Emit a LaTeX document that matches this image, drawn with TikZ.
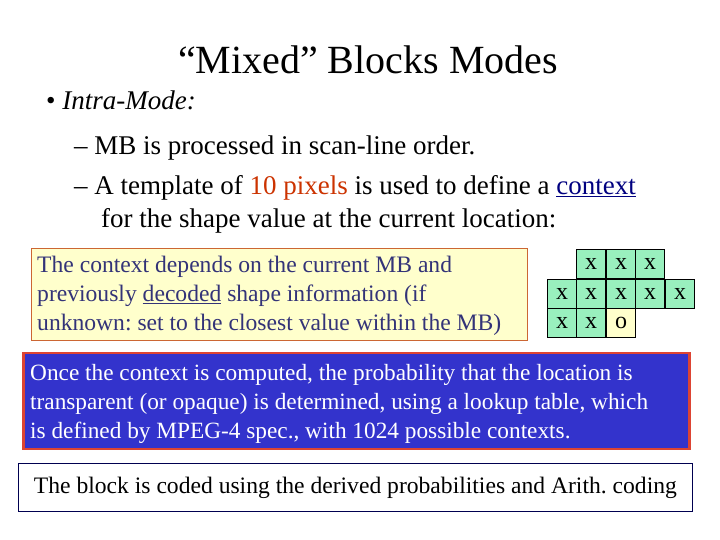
\documentclass[tikz,border=0pt]{standalone}
\usepackage{fontspec}
\setmainfont{Liberation Serif}
\frenchspacing
\begin{document}
\begin{tikzpicture}[x=1pt,y=1pt,
  txt/.style={anchor=base west,inner sep=0pt,font=\fontsize{27}{30}\selectfont},
  boxtxt/.style={align=left,inner sep=0pt,font=\fontsize{23.6}{29}\selectfont},
  cell/.style={draw=black,fill={rgb,255:red,153;green,240;blue,190},minimum size=29.5pt,inner sep=0pt,font=\fontsize{24}{24}\selectfont,line width=0.8pt},
  ocell/.style={cell,fill={rgb,255:red,255;green,255;blue,204}}]
\useasboundingbox (0,0) rectangle (720,540);
\fill[white] (0,0) rectangle (720,540);
\node[anchor=base,inner sep=0pt,font=\fontsize{40}{44}\selectfont] (title) at (368,466) {“Mixed” Blocks Modes};
\node[txt] (b1) at (46,430) {\textbullet\ \textit{Intra-Mode:}};
\node[txt] (l1) at (74,385) {– MB is processed in scan-line order.};
\node[txt] (l2) at (74,345) {– A template of \textcolor[HTML]{CC3300}{10 pixels} is used to define a \textcolor[HTML]{000080}{\underline{context}}};
\node[txt] (l3) at (101,312) {for the shape value at the current location:};
\node[draw={rgb,255:red,204;green,102;blue,51},line width=1pt,fill={rgb,255:red,255;green,255;blue,204},minimum width=496pt,minimum height=92pt,anchor=north west] (ybox) at (31,292) {};
\node[boxtxt,text={rgb,255:red,51;green,51;blue,120},anchor=west] (ytxt) at (37,244) {The context depends on the current MB and\\previously \underline{decoded} shape information (if\\unknown: set to the closest value within the MB)};
\node[cell] (c12) at (591,276) {x};
\node[cell] (c13) at (621,276) {x};
\node[cell] (c14) at (650,276) {x};
\node[cell] (c21) at (562,246) {x};
\node[cell] (c22) at (591,246) {x};
\node[cell] (c23) at (621,246) {x};
\node[cell] (c24) at (650,246) {x};
\node[cell] (c25) at (680,246) {x};
\node[cell] (c31) at (562,217) {x};
\node[cell] (c32) at (591,217) {x};
\node[ocell] (c33) at (621,217) {o};
\node[draw={rgb,255:red,221;green,68;blue,51},line width=2.5pt,fill={rgb,255:red,51;green,51;blue,204},minimum width=666pt,minimum height=96pt,anchor=north west] (bbox) at (22,188) {};
\node[boxtxt,text=white,anchor=west,font=\fontsize{23.3}{29}\selectfont] (btxt) at (30,136) {Once the context is computed, the probability that the location is\\transparent (or opaque) is determined, using a lookup table, which\\is defined by MPEG-4 spec., with 1024 possible contexts.};
\node[draw={rgb,255:red,0;green,0;blue,80},line width=0.8pt,minimum width=674pt,minimum height=48pt,anchor=north west] (kbox) at (18,77) {};
\node[boxtxt,anchor=center] (ktxt) at (kbox.center) {The block is coded using the derived probabilities and Arith. coding};
\end{tikzpicture}
\end{document}
